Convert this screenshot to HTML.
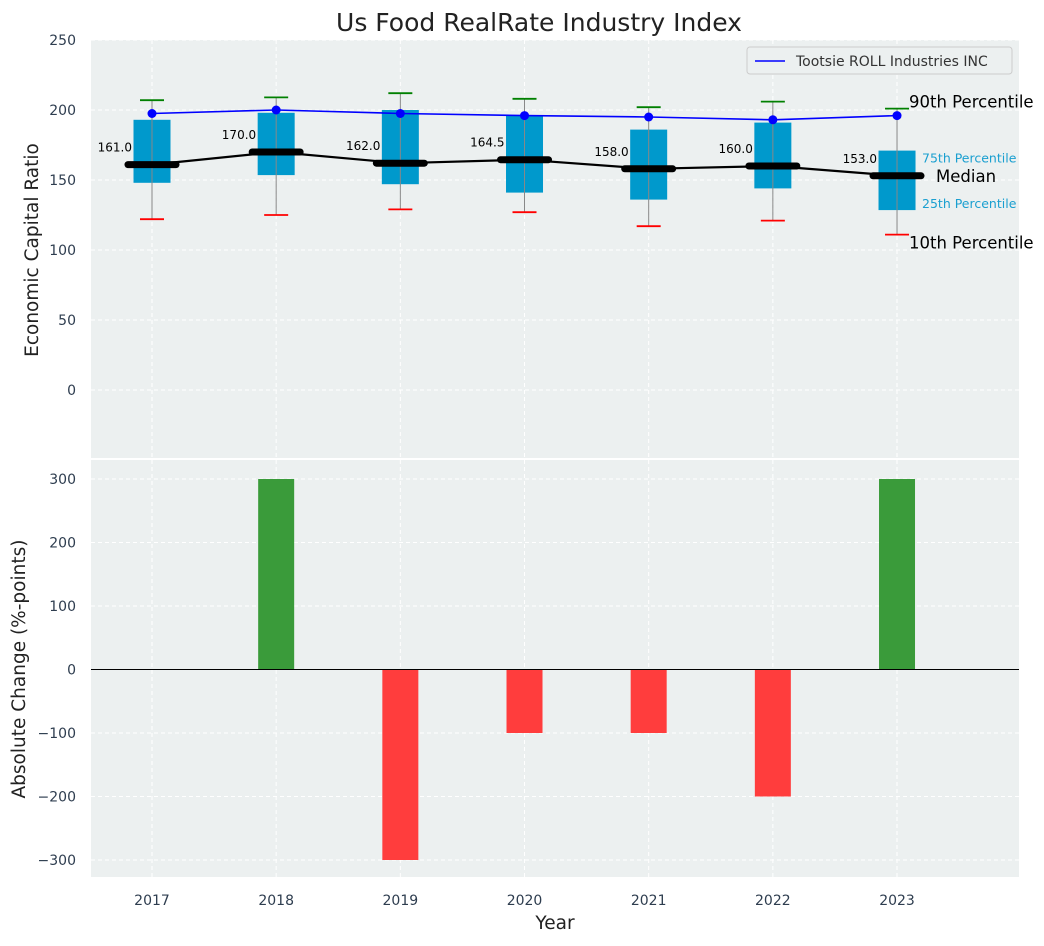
<!DOCTYPE html>
<html><head><meta charset="utf-8"><style>
body{margin:0;background:#fff;font-family:"DejaVu Sans","Liberation Sans",sans-serif}
svg text{font-family:"DejaVu Sans","Liberation Sans",sans-serif}
</style></head><body>
<svg id="c" width="1044" height="942" xmlns="http://www.w3.org/2000/svg"></svg>
<script>
const years=[2017,2018,2019,2020,2021,2022,2023];
const p10=[122,125,129,127,117,121,111];
const p25=[148,153.5,147,141,136,144,128.5];
const medians=[161,170,162,164.5,158,160,153];
const p75=[193,198,200,196,186,191,171];
const p90=[207,209,212,208,202,206,201];
const companyValues=[197.5,200,197.5,196,195,193,196];
const changes=[0,300,-300,-100,-100,-200,300];
const topTicks=[0,50,100,150,200,250];
const botTicks=[-300,-200,-100,0,100,200,300];

const svg=document.getElementById('c');
const NS='http://www.w3.org/2000/svg';
function el(t,a,txt,parent){const e=document.createElementNS(NS,t);for(const k in a)e.setAttribute(k,a[k]);if(txt!==undefined)e.textContent=txt;(parent||svg).appendChild(e);return e;}
const L=91,R=1019;
const x=v=>152+(v-2017)*124.17;
const yT=v=>390-v*1.4;
const yB=v=>669.5-v*0.635;
const tc='#2e3d4f';

let e;
e=el('rect',{x:L,y:40,width:R-L,height:418,fill:'#ecf0f0'});

e=el('rect',{x:L,y:460,width:R-L,height:417,fill:'#ecf0f0'});


years.forEach(yr=>{
 el('line',{x1:x(yr),x2:x(yr),y1:40,y2:458,stroke:'#fff','stroke-dasharray':'4,3','stroke-width':1});
 el('line',{x1:x(yr),x2:x(yr),y1:460,y2:877,stroke:'#fff','stroke-dasharray':'4,3','stroke-width':1});
 e=el('text',{x:x(yr),y:905,'text-anchor':'middle','font-size':14,fill:tc},yr);
 
});
topTicks.forEach(t=>{
 el('line',{x1:L,x2:R,y1:yT(t),y2:yT(t),stroke:'#fff','stroke-dasharray':'4,3'});
 e=el('text',{x:76,y:yT(t)+5,'text-anchor':'end','font-size':14,fill:tc},t);
 
});
botTicks.forEach(t=>{
 el('line',{x1:L,x2:R,y1:yB(t),y2:yB(t),stroke:'#fff','stroke-dasharray':'4,3'});
 e=el('text',{x:76,y:yB(t)+5,'text-anchor':'end','font-size':14,fill:tc},t<0?'\u2212'+(-t):t);
 
});

const bw=37;
years.forEach((yr,i)=>{
 const cx=x(yr);
 e=el('rect',{x:cx-bw/2,y:yT(p75[i]),width:bw,height:yT(p25[i])-yT(p75[i]),fill:'#0099cc'});
 
 e=el('line',{x1:cx,x2:cx,y1:yT(p90[i]),y2:yT(p10[i]),stroke:'#888','stroke-width':1});
 
 el('line',{x1:cx-12,x2:cx+12,y1:yT(p90[i]),y2:yT(p90[i]),stroke:'green','stroke-width':1.8});
 el('line',{x1:cx-12,x2:cx+12,y1:yT(p10[i]),y2:yT(p10[i]),stroke:'red','stroke-width':1.8});
 e=el('text',{x:cx-20,y:yT(medians[i])-13,'text-anchor':'end','font-size':12,fill:'#000'},medians[i].toFixed(1));
 
});
e=el('polyline',{points:years.map((yr,i)=>x(yr)+','+yT(medians[i])).join(' '),fill:'none',stroke:'#000','stroke-width':2.2});

years.forEach((yr,i)=>{
 e=el('line',{x1:x(yr)-24,x2:x(yr)+24,y1:yT(medians[i]),y2:yT(medians[i]),stroke:'#000','stroke-width':7,'stroke-linecap':'round'});
 
});
e=el('polyline',{points:years.map((yr,i)=>x(yr)+','+yT(companyValues[i])).join(' '),fill:'none',stroke:'blue','stroke-width':1.6});

years.forEach((yr,i)=>{
 e=el('circle',{cx:x(yr),cy:yT(companyValues[i]),r:4.5,fill:'blue'});
 
});
const lx=x(2023);
el('text',{x:lx+12,y:yT(p90[6])-1,'font-size':16.5,fill:'#000'},'90th Percentile');
el('text',{x:lx+12,y:yT(p10[6])+14,'font-size':16.5,fill:'#000'},'10th Percentile');
el('text',{x:lx+39,y:yT(medians[6])+6,'font-size':16.5,fill:'#000'},'Median');
el('text',{x:lx+25,y:yT(p75[6])+12,'font-size':12.5,fill:'#1a9fd0'},'75th Percentile');
el('text',{x:lx+25,y:yT(p25[6])-2,'font-size':12.5,fill:'#1a9fd0'},'25th Percentile');

e=el('rect',{x:747,y:47,width:265,height:27,rx:3,fill:'#ecf0f0',stroke:'#ccc'});

el('line',{x1:755,x2:785,y1:61,y2:61,stroke:'blue','stroke-width':1.6});
el('text',{x:796,y:66,'font-size':14,fill:'#333'},'Tootsie ROLL Industries INC');

const barW=36;
years.forEach((yr,i)=>{
 const v=changes[i];if(v===0)return;
 e=el('rect',{x:x(yr)-barW/2,y:Math.min(yB(v),yB(0)),width:barW,height:Math.abs(yB(v)-yB(0)),fill:v>0?'#3a9b3a':'#ff3d3d'});
 
});
el('line',{x1:L,x2:R,y1:yB(0),y2:yB(0),stroke:'#000','stroke-width':1});

e=el('text',{x:539,y:31,'text-anchor':'middle','font-size':25,fill:'#222'},'Us Food RealRate Industry Index');

e=el('text',{x:38,y:250,'text-anchor':'middle','font-size':18.5,fill:'#222',transform:'rotate(-90 38 250)'},'Economic Capital Ratio');

e=el('text',{x:25,y:669,'text-anchor':'middle','font-size':18.5,fill:'#222',transform:'rotate(-90 25 669)'},'Absolute Change (%-points)');

e=el('text',{x:555,y:929,'text-anchor':'middle','font-size':18.5,fill:'#222'},'Year');

</script>
</body></html>
